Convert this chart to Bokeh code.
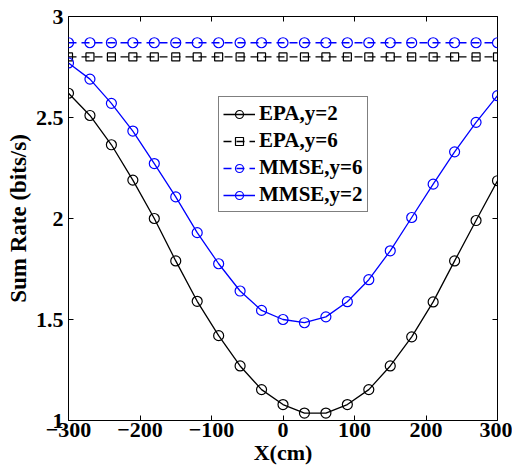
from bokeh.plotting import figure
from bokeh.models import LinearAxis, Legend, LegendItem, Range1d, FixedTicker, CustomJSTickFormatter
from bokeh.embed import file_html
from bokeh.resources import INLINE

x_cm = [-300, -270, -240, -210, -180, -150, -120, -90, -60, -30, 0,
        30, 60, 90, 120, 150, 180, 210, 240, 270, 300]
epa_y2 = [2.62, 2.51, 2.365, 2.19, 2.0, 1.79, 1.59, 1.42, 1.27, 1.153, 1.079,
          1.037, 1.037, 1.079, 1.153, 1.27, 1.414, 1.587, 1.79, 1.99, 2.187]
epa_y6 = [2.80] * 21
mmse_y6 = [2.87] * 21
mmse_y2 = [2.77, 2.69, 2.57, 2.433, 2.272, 2.107, 1.93, 1.776, 1.641, 1.545, 1.50,
           1.484, 1.513, 1.588, 1.697, 1.84, 2.005, 2.17, 2.33, 2.476, 2.608]
x_ticks = [-300, -200, -100, 0, 100, 200, 300]
y_ticks = [1, 1.5, 2, 2.5, 3]
y_tick_labels = {1: "1", 1.5: "1.5", 2: "2", 2.5: "2.5", 3: "3"}

FONT = "Liberation Serif"
BLUE = "#0000ff"

p = figure(width=512, height=474, output_backend="svg", toolbar_location=None,
           x_range=Range1d(-300, 300), y_range=Range1d(1, 3),
           min_border_left=68, min_border_right=15, min_border_top=16, min_border_bottom=54)
p.xgrid.visible = False
p.ygrid.visible = False
p.outline_line_color = "black"
p.outline_line_width = 1
p.background_fill_color = "white"
p.border_fill_color = "white"

def style_axis(ax):
    ax.major_tick_in = 5
    ax.major_tick_out = 0
    ax.minor_tick_in = 0
    ax.minor_tick_out = 0
    ax.axis_line_color = None
    ax.major_tick_line_color = "black"
    ax.major_label_text_font = FONT
    ax.major_label_text_font_style = "bold"
    ax.major_label_text_font_size = "22px"
    ax.major_label_text_color = "black"
    ax.axis_label_text_font = FONT
    ax.axis_label_text_font_style = "bold"
    ax.axis_label_text_font_size = "22px"
    ax.axis_label_text_color = "black"

xa = p.xaxis[0]
xa.ticker = FixedTicker(ticks=x_ticks)
xa.axis_label = "X(cm)"
xa.axis_label_standoff = 0
xa.major_label_standoff = 2
style_axis(xa)

ya = p.yaxis[0]
ya.ticker = FixedTicker(ticks=y_ticks)
ya.major_label_overrides = y_tick_labels
ya.axis_label = "Sum Rate (bits/s)"
ya.axis_label_standoff = 2
ya.major_label_standoff = 5
style_axis(ya)
ya.axis_label_text_font_size = "23px"

blank = CustomJSTickFormatter(code="return ''")
top = LinearAxis(ticker=FixedTicker(ticks=x_ticks), formatter=blank)
style_axis(top)
p.add_layout(top, "above")
right = LinearAxis(ticker=FixedTicker(ticks=y_ticks), formatter=blank)
style_axis(right)
p.add_layout(right, "right")

r1l = p.line(x_cm, epa_y2, line_color="black", line_width=1.3)
r1m = p.scatter(x_cm, epa_y2, marker="circle", size=10, fill_color=None, line_color="black", line_width=1.2)
r2l = p.line(x_cm, epa_y6, line_color="black", line_width=1.3, line_dash="8 5")
r2m = p.scatter(x_cm, epa_y6, marker="square", size=8, fill_color=None, line_color="black", line_width=1.2)
r3l = p.line(x_cm, mmse_y6, line_color=BLUE, line_width=1.3, line_dash="8 5")
r3m = p.scatter(x_cm, mmse_y6, marker="circle", size=10, fill_color=None, line_color=BLUE, line_width=1.2)
r4l = p.line(x_cm, mmse_y2, line_color=BLUE, line_width=1.3)
r4m = p.scatter(x_cm, mmse_y2, marker="circle", size=10, fill_color=None, line_color=BLUE, line_width=1.2)

legend = Legend(items=[
    LegendItem(label="EPA,y=2", renderers=[r1l, r1m]),
    LegendItem(label="EPA,y=6", renderers=[r2l, r2m]),
    LegendItem(label="MMSE,y=6", renderers=[r3l, r3m]),
    LegendItem(label="MMSE,y=2", renderers=[r4l, r4m]),
], location=(150, 208))
legend.label_text_font = FONT
legend.label_text_font_style = "bold"
legend.label_text_font_size = "21px"
legend.label_text_color = "black"
legend.border_line_color = "black"
legend.border_line_width = 1
legend.glyph_width = 32
legend.glyph_height = 20
legend.spacing = 2
legend.padding = 4
legend.margin = 0
legend.label_standoff = 4
legend.label_height = 20
legend.background_fill_alpha = 1
p.add_layout(legend, "center")

open("out.html", "w").write(file_html(p, INLINE))
